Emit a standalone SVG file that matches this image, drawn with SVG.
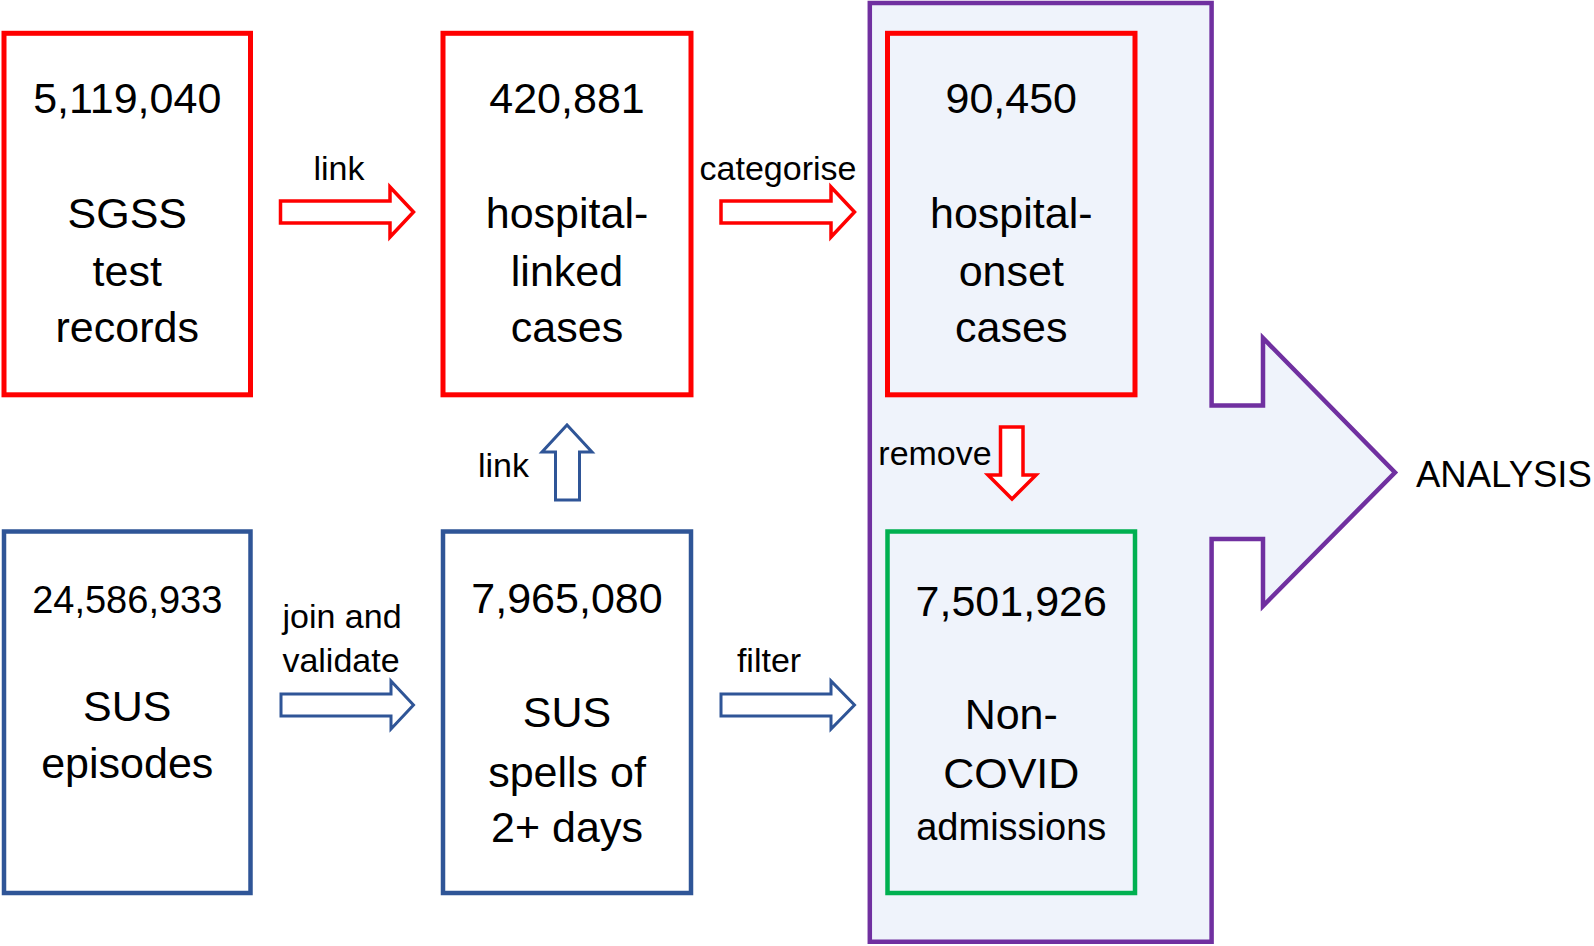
<svg xmlns="http://www.w3.org/2000/svg" width="1594" height="946" viewBox="0 0 1594 946">
  <style>
    .t { font-family: "Liberation Sans", Arial, sans-serif; fill: #000; text-anchor: middle; }
    .big { font-size: 43px; }
    .mid { font-size: 38px; }
    .lbl { font-size: 34px; }
    .red { fill: none; stroke: #FF0000; stroke-width: 5; }
    .blue { fill: none; stroke: #2F5597; stroke-width: 4.5; }
    .green { fill: none; stroke: #00B050; stroke-width: 4.5; }
    .ra { fill: #FFFFFF; stroke: #FF0000; stroke-width: 3.5; stroke-linejoin: miter; }
    .ba { fill: #FFFFFF; stroke: #2F5597; stroke-width: 3; stroke-linejoin: miter; }
  </style>
  <rect width="1594" height="946" fill="#FFFFFF"/>

  <g id="analysis">
    <path d="M869.8,3 H1211.6 V405.5 H1263 V338 L1395,472.5 L1263,606 V539 H1211.6 V941.8 H869.8 Z" fill="#EFF3FB" stroke="#7030A0" stroke-width="4.5"/>
    <text class="t" x="1416" y="487" style="font-size:36.5px;text-anchor:start">ANALYSIS</text>
  </g>

  <g id="sgss">
    <rect class="red" x="4" y="33.3" width="246.5" height="361.5"/>
    <text class="t big" x="127.25" y="113">5,119,040</text>
    <text class="t big" x="127.25" y="228">SGSS</text>
    <text class="t big" x="127.25" y="286">test</text>
    <text class="t big" x="127.25" y="342">records</text>
  </g>

  <g id="hospital-linked">
    <rect class="red" x="443" y="33.3" width="248" height="361.5"/>
    <text class="t big" x="567" y="113">420,881</text>
    <text class="t big" x="567" y="228">hospital-</text>
    <text class="t big" x="567" y="286">linked</text>
    <text class="t big" x="567" y="342">cases</text>
  </g>

  <g id="hospital-onset">
    <rect class="red" x="887.5" y="33.3" width="247.5" height="361.5"/>
    <text class="t big" x="1011.25" y="113">90,450</text>
    <text class="t big" x="1011.25" y="228">hospital-</text>
    <text class="t big" x="1011.25" y="286">onset</text>
    <text class="t big" x="1011.25" y="342">cases</text>
  </g>

  <g id="sus-episodes">
    <rect class="blue" x="4" y="531.5" width="246.5" height="361.5"/>
    <text class="t mid" x="127.25" y="613">24,586,933</text>
    <text class="t big" x="127.25" y="721">SUS</text>
    <text class="t big" x="127.25" y="778">episodes</text>
  </g>

  <g id="sus-spells">
    <rect class="blue" x="443" y="531.5" width="248" height="361.5"/>
    <text class="t big" x="567" y="612.5">7,965,080</text>
    <text class="t big" x="567" y="726.5">SUS</text>
    <text class="t big" x="567" y="787">spells of</text>
    <text class="t big" x="567" y="842">2+ days</text>
  </g>

  <g id="non-covid">
    <rect class="green" x="887.5" y="531.5" width="247.5" height="361.5"/>
    <text class="t big" x="1011.25" y="616">7,501,926</text>
    <text class="t big" x="1011.25" y="729">Non-</text>
    <text class="t big" x="1011.25" y="788">COVID</text>
    <text class="t mid" x="1011.25" y="840">admissions</text>
  </g>

  <g id="connectors">
    <g id="link-top">
      <polygon class="ra" points="280.5,201 390,201 390,187 413.5,212 390,237 390,223 280.5,223"/>
      <text class="t lbl" x="339" y="180">link</text>
    </g>
    <g id="categorise">
      <polygon class="ra" points="721,201 831,201 831,187 854.5,212 831,237 831,223 721,223"/>
      <text class="t lbl" x="778" y="180">categorise</text>
    </g>
    <g id="link-up">
      <polygon class="ba" points="555.5,500 555.5,452 542,452 567,425 592,452 579.5,452 579.5,500"/>
      <text class="t lbl" x="503.5" y="477">link</text>
    </g>
    <g id="join-validate">
      <polygon class="ba" points="281,694 391,694 391,681 413.5,705 391,729 391,716 281,716"/>
      <text class="t lbl" x="342" y="628">join and</text>
      <text class="t lbl" x="341" y="672">validate</text>
    </g>
    <g id="filter">
      <polygon class="ba" points="721,694 831,694 831,681 854.5,705 831,729 831,716 721,716"/>
      <text class="t lbl" x="769" y="672">filter</text>
    </g>
    <g id="remove">
      <polygon class="ra" points="1000.5,427 1023,427 1023,475 1036,475 1012,499 988,475 1000.5,475"/>
      <text class="t lbl" x="935" y="464.5">remove</text>
    </g>
  </g>
</svg>
